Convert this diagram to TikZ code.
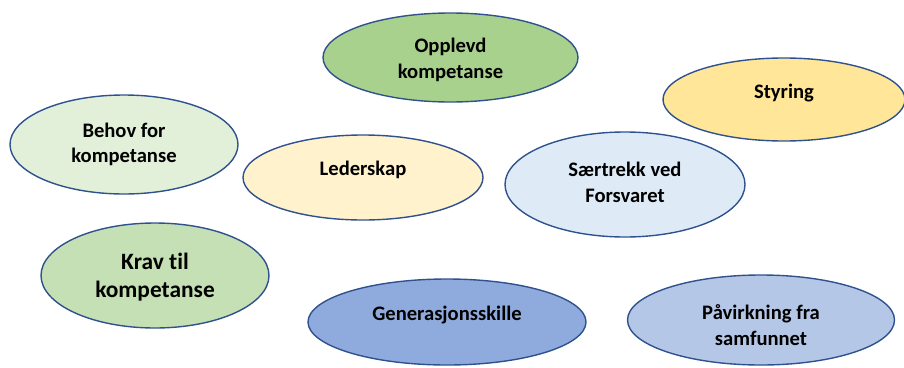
\documentclass[tikz,border=0pt]{standalone}
\usepackage{fontspec}
\setmainfont{Carlito}[Ligatures=NoCommon]
\usetikzlibrary{shapes.geometric}
\definecolor{edge}{HTML}{2F528F}
\definecolor{cOpp}{HTML}{A9D18E}
\definecolor{cSty}{HTML}{FFE699}
\definecolor{cBeh}{HTML}{E2F0D9}
\definecolor{cLed}{HTML}{FFF2CC}
\definecolor{cSar}{HTML}{DEEBF7}
\definecolor{cKra}{HTML}{C5E0B4}
\definecolor{cGen}{HTML}{8FAADC}
\definecolor{cPaa}{HTML}{B4C7E7}
\tikzset{
  oval/.style={ellipse, draw=edge, line width=1.4pt, inner sep=0pt},
  lbl/.style={font=\bfseries\fontsize{20.6}{25.5}\selectfont, align=center, inner sep=0pt, text=black},
  biglbl/.style={font=\bfseries\fontsize{23.4}{28}\selectfont, align=center, inner sep=0pt, text=black}
}
\begin{document}
\begin{tikzpicture}[x=1pt,y=-1pt]
\useasboundingbox (0,0) rectangle (904,367);
\node[oval, fill=cOpp, minimum width=255pt, minimum height=89pt] (opp) at (450.5,57.5) {};
\node[lbl] (oppt) at (450.5,60) {Opplevd\\kompetanse};
\node[oval, fill=cSty, minimum width=242pt, minimum height=83pt] (sty) at (784,99.5) {};
\node[lbl] (styt) at (784,93) {Styring};
\node[oval, fill=cBeh, minimum width=228pt, minimum height=99pt] (beh) at (124,144.5) {};
\node[lbl] (beht) at (124,144.5) {Behov for\\kompetanse};
\node[oval, fill=cLed, minimum width=240pt, minimum height=85pt] (led) at (363,177.5) {};
\node[lbl] (ledt) at (363,170) {Lederskap};
\node[oval, fill=cSar, minimum width=240pt, minimum height=105pt] (sar) at (625,184.5) {};
\node[lbl] (sart) at (625,182.5) {Særtrekk ved\\Forsvaret};
\node[oval, fill=cKra, minimum width=228pt, minimum height=105pt] (kra) at (155,275.5) {};
\node[biglbl] (krat) at (155,277) {Krav til\\kompetanse};
\node[oval, fill=cGen, minimum width=278pt, minimum height=86pt] (gen) at (447,322) {};
\node[lbl] (gent) at (447,315) {Generasjonsskille};
\node[oval, fill=cPaa, minimum width=267pt, minimum height=90pt] (paa) at (761,320) {};
\node[lbl] (paat) at (761,325) {Påvirkning fra\\samfunnet};
\end{tikzpicture}
\end{document}
